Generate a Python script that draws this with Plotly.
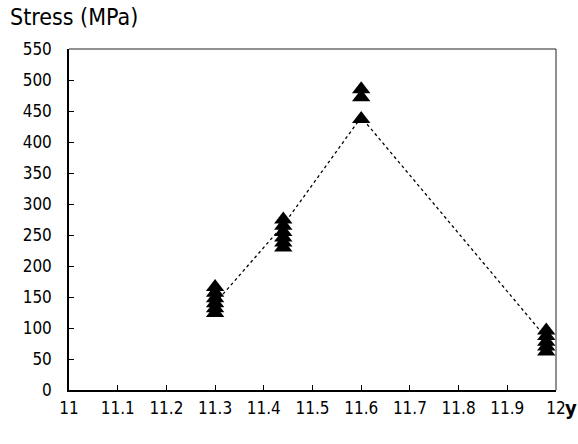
import plotly.graph_objects as go

# Measured stress values (triangles, overlapping clusters)
tri_x = [11.3, 11.3, 11.3, 11.3, 11.3, 11.3,
         11.44, 11.44, 11.44, 11.44, 11.44, 11.44,
         11.6, 11.6, 11.6,
         11.98, 11.98, 11.98, 11.98, 11.98]
tri_y = [124, 132, 140, 148, 157, 166,
         230, 238, 246, 255, 265, 275,
         437, 472, 485,
         62, 70, 78, 87, 96]

# Trend line (dotted)
line_x = [11.3, 11.44, 11.6, 11.98]
line_y = [140, 266, 440, 84]

x_ticks = [11.0, 11.1, 11.2, 11.3, 11.4, 11.5, 11.6, 11.7, 11.8, 11.9, 12.0]
x_tick_text = ["11", "11.1", "11.2", "11.3", "11.4", "11.5", "11.6", "11.7", "11.8", "11.9", "12"]
y_ticks = list(range(0, 551, 50))

FONT = "DejaVu Sans Condensed, Liberation Sans Narrow, Arial Narrow, sans-serif"

fig = go.Figure()
fig.add_trace(go.Scatter(
    x=line_x, y=line_y, mode="lines",
    line=dict(color="black", width=1.3, dash="dot"),
    showlegend=False, hoverinfo="skip"))
fig.add_trace(go.Scatter(
    x=tri_x, y=tri_y, mode="markers",
    marker=dict(symbol="triangle-up", size=16, color="black"),
    showlegend=False))

fig.update_layout(
    width=578, height=444,
    margin=dict(l=69, r=16, t=49, b=54),
    paper_bgcolor="white", plot_bgcolor="white",
    font=dict(family=FONT, color="black", size=17),
    xaxis=dict(range=[11, 12], tickvals=x_ticks, ticktext=x_tick_text,
               ticks="inside", ticklen=5, tickcolor="black", tickwidth=1,
               showline=True, linecolor="black", linewidth=1.5,
               showgrid=False, zeroline=False, ticklabelstandoff=2,
               tickfont=dict(size=17, family=FONT)),
    yaxis=dict(range=[0, 550], tickvals=y_ticks,
               ticks="inside", ticklen=5, tickcolor="black", tickwidth=1,
               showline=True, linecolor="black", linewidth=1.5,
               showgrid=False, zeroline=False, ticklabelstandoff=12,
               tickfont=dict(size=17, family=FONT)),
    shapes=[
        dict(type="line", xref="paper", yref="paper", x0=0, x1=1, y0=1, y1=1,
             line=dict(color="#222", width=1)),
        dict(type="line", xref="paper", yref="paper", x0=1, x1=1, y0=0, y1=1,
             line=dict(color="#222", width=1)),
    ],
    annotations=[
        dict(text="Stress (MPa)", xref="paper", yref="paper",
             x=-0.125, y=1.0, yshift=47, xanchor="left", yanchor="top",
             showarrow=False, font=dict(size=23, family=FONT)),
        dict(text="<b>y</b>", xref="paper", yref="paper",
             x=1.0, y=0, xshift=7, yshift=-4, xanchor="left", yanchor="top",
             showarrow=False, font=dict(size=20, family=FONT)),
    ],
)

fig.write_html("out.html")
